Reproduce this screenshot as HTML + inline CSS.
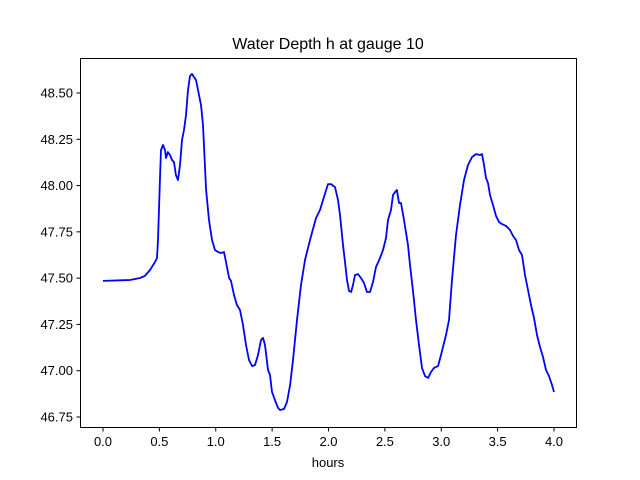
<!DOCTYPE html>
<html><head><meta charset="utf-8"><style>
html,body{margin:0;padding:0;background:#fff;}
svg{display:block;font-family:"Liberation Sans","DejaVu Sans",sans-serif;}
</style></head><body>
<svg id="chart" width="640" height="480" viewBox="0 0 640 480" xmlns="http://www.w3.org/2000/svg">
<rect width="640" height="480" fill="#fff"/>
<text x="328" y="49" text-anchor="middle" font-size="16">Water Depth h at gauge 10</text>
<text x="328" y="467" text-anchor="middle" font-size="13">hours</text>
<g id="ticks"></g>
<path id="line" fill="none" stroke="#0000ff" stroke-width="1.8" stroke-linejoin="round"/>
<rect x="80.5" y="58.5" width="496" height="369" fill="none" stroke="#000" stroke-width="1"/>
</svg>
<script>
const hours=[0,.239,.328,.372,.417,.461,.479,.488,.506,.514,.532,.550,.559,.576,.594,.612,.630,.647,.665,.683,.701,.718,.736,.754,.772,.789,.807,.825,.843,.869,.887,.914,.940,.967,.993,1.020,1.047,1.073,1.091,1.118,1.135,1.162,1.188,1.215,1.242,1.268,1.295,1.322,1.348,1.375,1.401,1.419,1.437,1.463,1.481,1.499,1.525,1.552,1.570,1.605,1.632,1.659,1.685,1.721,1.756,1.792,1.836,1.889,1.925,1.951,1.996,2.022,2.058,2.084,2.102,2.129,2.146,2.164,2.182,2.200,2.217,2.235,2.262,2.288,2.315,2.341,2.368,2.395,2.421,2.457,2.483,2.510,2.528,2.554,2.572,2.590,2.607,2.625,2.643,2.670,2.705,2.723,2.749,2.776,2.803,2.829,2.856,2.883,2.909,2.936,2.971,2.998,3.042,3.069,3.095,3.131,3.166,3.202,3.237,3.273,3.308,3.344,3.361,3.379,3.397,3.415,3.432,3.459,3.486,3.512,3.539,3.574,3.610,3.636,3.663,3.690,3.716,3.743,3.769,3.796,3.823,3.849,3.876,3.902,3.929,3.956,3.982,4.0];
const depths=[47.485,47.490,47.501,47.512,47.544,47.587,47.609,47.706,48.057,48.192,48.219,48.192,48.149,48.181,48.165,48.138,48.127,48.057,48.030,48.111,48.246,48.300,48.381,48.516,48.592,48.603,48.586,48.570,48.516,48.435,48.327,47.976,47.814,47.706,47.652,47.641,47.636,47.641,47.587,47.501,47.485,47.409,47.355,47.328,47.247,47.139,47.058,47.025,47.031,47.085,47.166,47.177,47.139,47.004,46.977,46.885,46.842,46.799,46.788,46.793,46.831,46.923,47.058,47.274,47.463,47.598,47.706,47.825,47.868,47.922,48.008,48.008,47.992,47.922,47.841,47.679,47.587,47.490,47.431,47.425,47.463,47.517,47.522,47.501,47.474,47.425,47.425,47.479,47.560,47.609,47.652,47.717,47.814,47.868,47.949,47.965,47.976,47.906,47.906,47.814,47.679,47.571,47.436,47.274,47.139,47.015,46.971,46.961,46.993,47.015,47.025,47.085,47.193,47.274,47.490,47.733,47.895,48.030,48.111,48.154,48.170,48.165,48.170,48.111,48.041,48.014,47.949,47.895,47.836,47.803,47.792,47.782,47.760,47.728,47.706,47.652,47.625,47.517,47.436,47.355,47.285,47.193,47.128,47.074,47.004,46.971,46.923,46.885];
const xTicks=[0,0.5,1,1.5,2,2.5,3,3.5,4];
const xTickLabels=["0.0","0.5","1.0","1.5","2.0","2.5","3.0","3.5","4.0"];
const yTicks=[46.75,47,47.25,47.5,47.75,48,48.25,48.5];
const yTickLabels=["46.75","47.00","47.25","47.50","47.75","48.00","48.25","48.50"];
const X=h=>103+h*112.75;
const Y=v=>417-(v-46.75)*185.14;
const NS="http://www.w3.org/2000/svg";
const g=document.getElementById('ticks');
xTicks.forEach((t,i)=>{
  const l=document.createElementNS(NS,'line');
  
  
  l.setAttribute('x1',X(t));l.setAttribute('x2',X(t));l.setAttribute('y1',428);l.setAttribute('y2',431.5);l.setAttribute('stroke','#000');
  g.appendChild(l);
  const tx=document.createElementNS(NS,'text');
  
  
  tx.setAttribute('x',X(t));tx.setAttribute('y',446);tx.setAttribute('text-anchor','middle');tx.setAttribute('font-size','13');
  tx.textContent=xTickLabels[i];g.appendChild(tx);
});
yTicks.forEach((t,i)=>{
  const l=document.createElementNS(NS,'line');
  
  
  l.setAttribute('x1',76.5);l.setAttribute('x2',80);l.setAttribute('y1',Y(t));l.setAttribute('y2',Y(t));l.setAttribute('stroke','#000');
  g.appendChild(l);
  const tx=document.createElementNS(NS,'text');
  
  
  tx.setAttribute('x',73);tx.setAttribute('y',Y(t)+4.5);tx.setAttribute('text-anchor','end');tx.setAttribute('font-size','13');
  tx.textContent=yTickLabels[i];g.appendChild(tx);
});
document.getElementById('line').setAttribute('d',hours.map((h,i)=>(i?'L':'M')+X(h).toFixed(1)+','+Y(depths[i]).toFixed(1)).join(''));
</script>
</body></html>
